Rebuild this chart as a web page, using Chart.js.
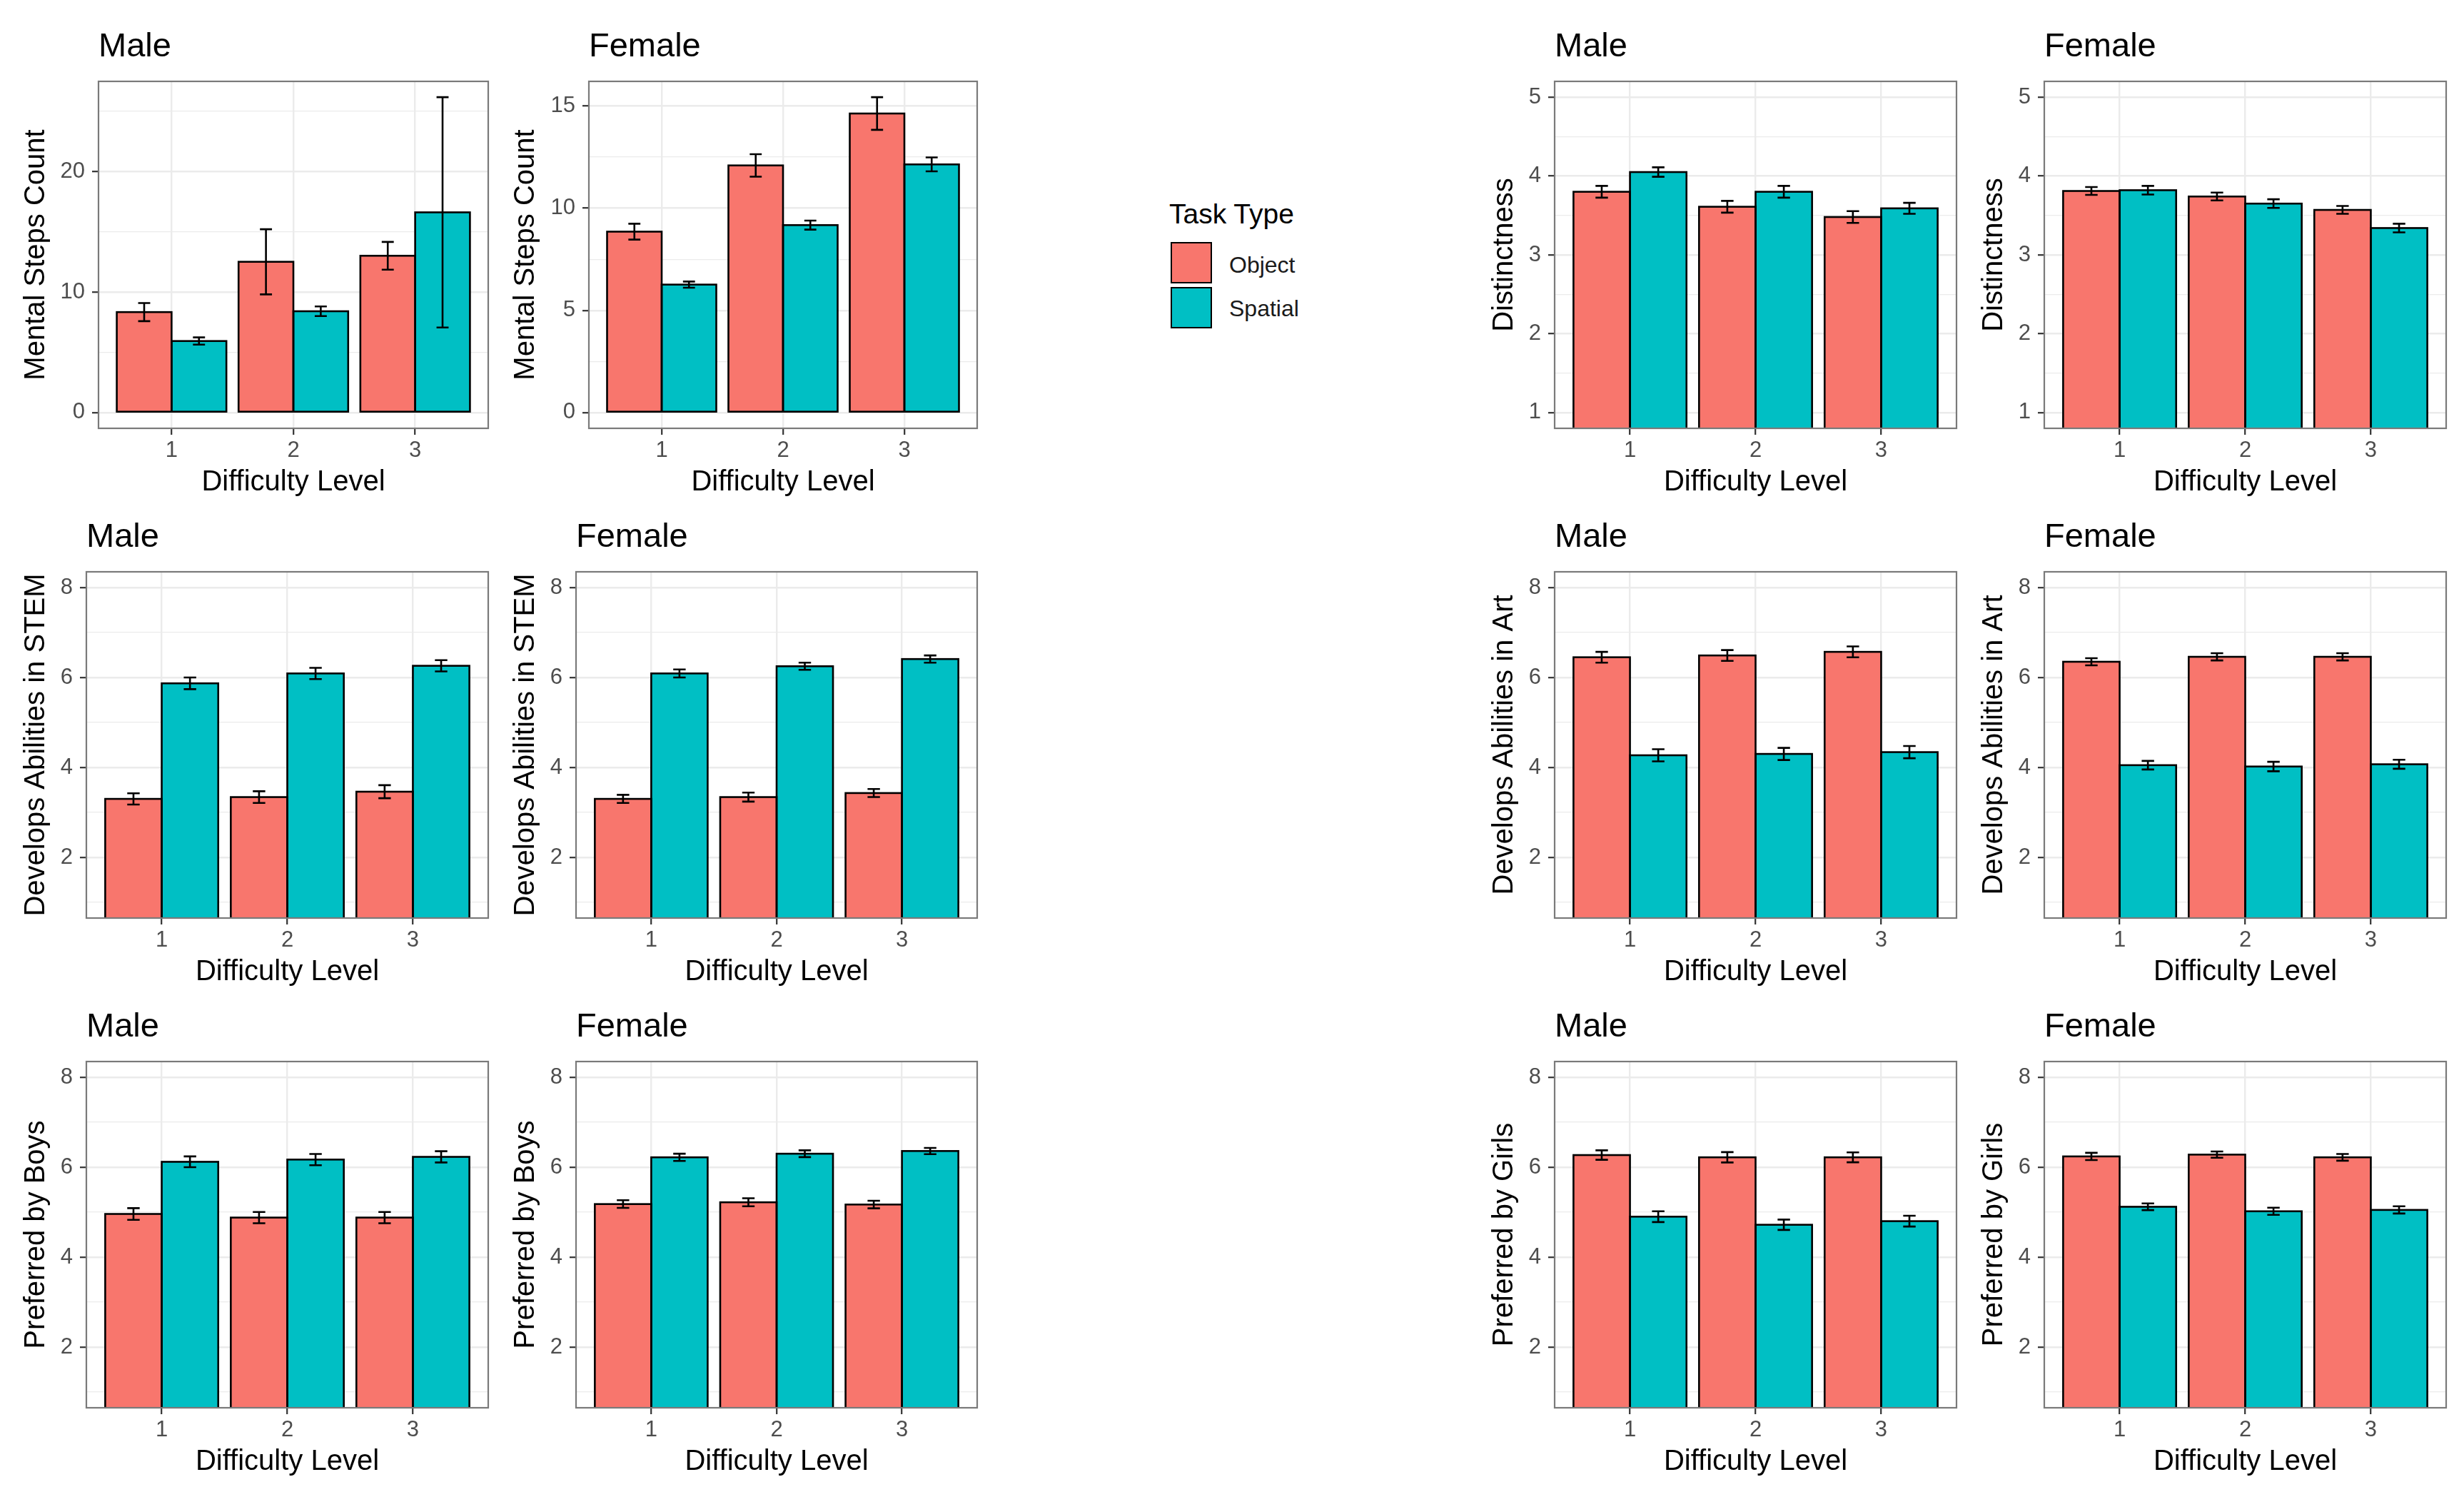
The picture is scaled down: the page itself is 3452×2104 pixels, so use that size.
<!DOCTYPE html>
<html>
<head>
<meta charset="utf-8">
<script src="https://cdn.jsdelivr.net/npm/chart.js@4.4.1/dist/chart.umd.min.js"></script>
<style>
html, body { margin: 0; padding: 0; background: #fff; }
body { width: 3452px; height: 2104px; position: relative; overflow: hidden; font-family: 'Liberation Sans', Arial, sans-serif; }
canvas { position: absolute; }
.leg { position: absolute; line-height: 1; white-space: nowrap; }
.key { position: absolute; width: 58px; height: 58px; box-sizing: border-box; border: 2.5px solid #000; }
</style>
</head>
<body>
<script>
// --- DATOS ---
const levels = ['1', '2', '3'];
const taskTypes = ['Object', 'Spatial'];
const taskColors = ['#F8766D', '#00BFC4'];

// Mental Steps Count (media y error)
const stepsMaleObj = [8.33, 12.5, 13.0];
const stepsMaleObjSe = [0.75, 2.7, 1.15];
const stepsMaleSpa = [5.93, 8.4, 16.6];
const stepsMaleSpaSe = [0.3, 0.4, 9.55];
const stepsFemaleObj = [8.85, 12.09, 14.63];
const stepsFemaleObjSe = [0.39, 0.55, 0.8];
const stepsFemaleSpa = [6.26, 9.17, 12.14];
const stepsFemaleSpaSe = [0.15, 0.22, 0.34];

// Distinctness
const distMaleObj = [3.80, 3.61, 3.48];
const distMaleObjSe = [0.075, 0.075, 0.075];
const distMaleSpa = [4.05, 3.80, 3.59];
const distMaleSpaSe = [0.06, 0.075, 0.07];
const distFemaleObj = [3.81, 3.74, 3.57];
const distFemaleObjSe = [0.05, 0.05, 0.05];
const distFemaleSpa = [3.82, 3.65, 3.34];
const distFemaleSpaSe = [0.055, 0.055, 0.055];

// Develops Abilities in STEM
const stemMaleObj = [3.30, 3.34, 3.46];
const stemMaleObjSe = [0.125, 0.13, 0.145];
const stemMaleSpa = [5.87, 6.09, 6.26];
const stemMaleSpaSe = [0.13, 0.125, 0.125];
const stemFemaleObj = [3.30, 3.34, 3.43];
const stemFemaleObjSe = [0.09, 0.10, 0.09];
const stemFemaleSpa = [6.09, 6.25, 6.41];
const stemFemaleSpaSe = [0.09, 0.08, 0.08];

// Develops Abilities in Art
const artMaleObj = [6.45, 6.49, 6.57];
const artMaleObjSe = [0.12, 0.12, 0.12];
const artMaleSpa = [4.27, 4.30, 4.34];
const artMaleSpaSe = [0.135, 0.135, 0.135];
const artFemaleObj = [6.35, 6.46, 6.46];
const artFemaleObjSe = [0.08, 0.08, 0.08];
const artFemaleSpa = [4.05, 4.02, 4.07];
const artFemaleSpaSe = [0.095, 0.105, 0.10];

// Preferred by Boys
const boysMaleObj = [4.96, 4.88, 4.88];
const boysMaleObjSe = [0.13, 0.125, 0.125];
const boysMaleSpa = [6.12, 6.17, 6.23];
const boysMaleSpaSe = [0.12, 0.125, 0.125];
const boysFemaleObj = [5.18, 5.22, 5.17];
const boysFemaleObjSe = [0.085, 0.09, 0.085];
const boysFemaleSpa = [6.22, 6.30, 6.36];
const boysFemaleSpaSe = [0.08, 0.075, 0.07];

// Preferred by Girls
const girlsMaleObj = [6.27, 6.22, 6.22];
const girlsMaleObjSe = [0.105, 0.115, 0.11];
const girlsMaleSpa = [4.90, 4.72, 4.80];
const girlsMaleSpaSe = [0.12, 0.115, 0.12];
const girlsFemaleObj = [6.24, 6.28, 6.22];
const girlsFemaleObjSe = [0.08, 0.07, 0.075];
const girlsFemaleSpa = [5.12, 5.02, 5.05];
const girlsFemaleSpaSe = [0.075, 0.08, 0.08];

// Ticks del eje Y (mayores con etiqueta, menores solo rejilla)
const stepsMaleTicks = [0, 10, 20];
const stepsMaleMinor = [5, 15, 25];
const stepsFemaleTicks = [0, 5, 10, 15];
const stepsFemaleMinor = [2.5, 7.5, 12.5];
const distTicks = [1, 2, 3, 4, 5];
const distMinor = [1.5, 2.5, 3.5, 4.5];
const ratingTicks = [2, 4, 6, 8];
const ratingMinor = [1, 3, 5, 7];
const distLimits = [1, 5];
const ratingLimits = [1, 8];

// --- ESTILO ---
const FONT = "'Liberation Sans', Arial, sans-serif";
Chart.defaults.font.family = FONT;

// columnas: x del titulo Y y del borde derecho del panel
const cols = [
    { yTitleX: 51, right: 684, left: [138, 121, 121] },
    { yTitleX: 737, right: 1369, left: [825, 807, 807] },
    { yTitleX: 2108, right: 2741, left: [2178, 2178, 2178] },
    { yTitleX: 2794, right: 3427, left: [2864, 2864, 2864] }
];
const rows = [[114, 600], [801, 1286], [1487, 1972]];

function stepsLimits(a, ae, b, be) {
    const hi = Math.max(...a.map((v, i) => v + ae[i]), ...b.map((v, i) => v + be[i]));
    return [0, hi];
}

const panels = [
    ['Male', 'Mental Steps Count', stepsMaleObj, stepsMaleObjSe, stepsMaleSpa, stepsMaleSpaSe, stepsMaleTicks, stepsMaleMinor,
        stepsLimits(stepsMaleObj, stepsMaleObjSe, stepsMaleSpa, stepsMaleSpaSe)],
    ['Female', 'Mental Steps Count', stepsFemaleObj, stepsFemaleObjSe, stepsFemaleSpa, stepsFemaleSpaSe, stepsFemaleTicks, stepsFemaleMinor,
        stepsLimits(stepsFemaleObj, stepsFemaleObjSe, stepsFemaleSpa, stepsFemaleSpaSe)],
    ['Male', 'Distinctness', distMaleObj, distMaleObjSe, distMaleSpa, distMaleSpaSe, distTicks, distMinor, distLimits],
    ['Female', 'Distinctness', distFemaleObj, distFemaleObjSe, distFemaleSpa, distFemaleSpaSe, distTicks, distMinor, distLimits],
    ['Male', 'Develops Abilities in STEM', stemMaleObj, stemMaleObjSe, stemMaleSpa, stemMaleSpaSe, ratingTicks, ratingMinor, ratingLimits],
    ['Female', 'Develops Abilities in STEM', stemFemaleObj, stemFemaleObjSe, stemFemaleSpa, stemFemaleSpaSe, ratingTicks, ratingMinor, ratingLimits],
    ['Male', 'Develops Abilities in Art', artMaleObj, artMaleObjSe, artMaleSpa, artMaleSpaSe, ratingTicks, ratingMinor, ratingLimits],
    ['Female', 'Develops Abilities in Art', artFemaleObj, artFemaleObjSe, artFemaleSpa, artFemaleSpaSe, ratingTicks, ratingMinor, ratingLimits],
    ['Male', 'Preferred by Boys', boysMaleObj, boysMaleObjSe, boysMaleSpa, boysMaleSpaSe, ratingTicks, ratingMinor, ratingLimits],
    ['Female', 'Preferred by Boys', boysFemaleObj, boysFemaleObjSe, boysFemaleSpa, boysFemaleSpaSe, ratingTicks, ratingMinor, ratingLimits],
    ['Male', 'Preferred by Girls', girlsMaleObj, girlsMaleObjSe, girlsMaleSpa, girlsMaleSpaSe, ratingTicks, ratingMinor, ratingLimits],
    ['Female', 'Preferred by Girls', girlsFemaleObj, girlsFemaleObjSe, girlsFemaleSpa, girlsFemaleSpaSe, ratingTicks, ratingMinor, ratingLimits]
];

// --- PLUGINS: bordes de barras, barras de error y marco del panel ---
const barOutlines = {
    id: 'barOutlines',
    afterDatasetsDraw(chart) {
        const { ctx, chartArea: a, scales: { y } } = chart;
        ctx.save();
        ctx.beginPath();
        ctx.rect(a.left, a.top, a.right - a.left, a.bottom - a.top);
        ctx.clip();
        ctx.strokeStyle = '#000';
        ctx.lineWidth = 2.6;
        chart.data.datasets.forEach((ds, i) => {
            chart.getDatasetMeta(i).data.forEach(bar => {
                const p = bar.getProps(['x', 'y', 'base', 'width'], true);
                ctx.strokeRect(p.x - p.width / 2, p.y, p.width, p.base - p.y);
            });
        });
        ctx.restore();

        ctx.save();
        ctx.strokeStyle = '#000';
        ctx.lineWidth = 2.6;
        chart.data.datasets.forEach((ds, i) => {
            chart.getDatasetMeta(i).data.forEach((bar, j) => {
                const top = y.getPixelForValue(ds.data[j] + ds.errors[j]);
                const bot = y.getPixelForValue(ds.data[j] - ds.errors[j]);
                const half = bar.width * 0.11;
                ctx.beginPath();
                ctx.moveTo(bar.x, top); ctx.lineTo(bar.x, bot);
                ctx.moveTo(bar.x - half, top); ctx.lineTo(bar.x + half, top);
                ctx.moveTo(bar.x - half, bot); ctx.lineTo(bar.x + half, bot);
                ctx.stroke();
            });
        });
        ctx.restore();
    }
};

const panelBorder = {
    id: 'panelBorder',
    afterDraw(chart) {
        const { ctx, chartArea: a } = chart;
        ctx.save();
        ctx.strokeStyle = '#7a7a7a';
        ctx.lineWidth = 2.2;
        ctx.strokeRect(a.left, a.top, a.right - a.left, a.bottom - a.top);
        ctx.restore();
    }
};

function makePanel(p, idx) {
    const [title, yTitle, obj, objSe, spa, spaSe, major, minor, limits] = p;
    const row = Math.floor(idx / 4), col = cols[idx % 4];
    const [top, bottom] = rows[row];
    const left = col.left[row], right = col.right;

    const cl = col.yTitleX - 24, ct = top - 80;
    const cw = right + 8 - cl, ch = bottom + 100 - ct;
    const cv = document.createElement('canvas');
    cv.width = cw; cv.height = ch;
    cv.style.left = cl + 'px'; cv.style.top = ct + 'px';
    cv.style.width = cw + 'px'; cv.style.height = ch + 'px';
    document.body.appendChild(cv);

    const span = limits[1] - limits[0];
    const yMin = limits[0] - span * 0.05, yMax = limits[1] + span * 0.05;
    const allTicks = [...major, ...minor].sort((a, b) => a - b);
    const isMajor = v => major.includes(v);

    new Chart(cv, {
        type: 'bar',
        data: {
            labels: levels,
            datasets: [
                { label: taskTypes[0], data: obj, errors: objSe, backgroundColor: taskColors[0] },
                { label: taskTypes[1], data: spa, errors: spaSe, backgroundColor: taskColors[1] }
            ].map(d => Object.assign(d, { borderWidth: 0, categoryPercentage: 0.9, barPercentage: 1.0, clip: 0 }))
        },
        options: {
            responsive: false,
            animation: false,
            devicePixelRatio: 1,
            layout: { padding: { left: 0, right: 8, top: 0, bottom: 0 } },
            plugins: {
                legend: { display: false },
                tooltip: { enabled: false },
                title: {
                    display: true, text: title, align: 'start', fullSize: false, color: '#000',
                    font: { size: 47, weight: 'normal' }, padding: { top: 3.8, bottom: 19.8 }
                }
            },
            scales: {
                x: {
                    type: 'linear', min: 0.4, max: 3.6, offset: false,
                    afterBuildTicks: s => { s.ticks = levels.map(v => ({ value: +v })); },
                    afterFit: s => { s.height = 100; },
                    grid: { offset: false, color: '#EBEBEB', lineWidth: 2.4, tickColor: '#333333', tickLength: 9, tickWidth: 2.2 },
                    border: { display: false },
                    ticks: { color: '#4D4D4D', font: { size: 31 }, padding: 4, autoSkip: false, maxRotation: 0 },
                    title: { display: true, text: 'Difficulty Level', color: '#000', font: { size: 40 }, padding: 0 }
                },
                y: {
                    type: 'linear', min: yMin, max: yMax,
                    afterBuildTicks: s => { s.ticks = allTicks.map(v => ({ value: v })); },
                    afterFit: s => { s.width = left - cl; },
                    grid: {
                        color: '#EBEBEB',
                        lineWidth: c => isMajor(c.tick.value) ? 2.4 : 1.2,
                        tickColor: c => isMajor(c.tick.value) ? '#333333' : 'rgba(0,0,0,0)',
                        tickLength: 9, tickWidth: 2.2
                    },
                    border: { display: false },
                    ticks: {
                        color: '#4D4D4D', font: { size: 31 }, padding: 10, autoSkip: false,
                        callback: v => isMajor(v) ? String(v) : ''
                    },
                    title: { display: true, text: yTitle, color: '#000', font: { size: 40 }, padding: 0 }
                }
            }
        },
        plugins: [barOutlines, panelBorder]
    });
}

panels.forEach(makePanel);

// --- LEYENDA ---
function addDiv(cls, style, text) {
    const d = document.createElement('div');
    d.className = cls;
    Object.assign(d.style, style);
    if (text) d.textContent = text;
    document.body.appendChild(d);
}
addDiv('leg', { left: '1638px', top: '280px', fontSize: '39px', color: '#000' }, 'Task Type');
taskTypes.forEach((t, i) => {
    addDiv('key', { left: '1640px', top: (339 + i * 63) + 'px', background: taskColors[i] });
    addDiv('leg', { left: '1722px', top: (355 + i * 61) + 'px', fontSize: '32px', color: '#1a1a1a' }, t);
});
</script>
</body>
</html>
